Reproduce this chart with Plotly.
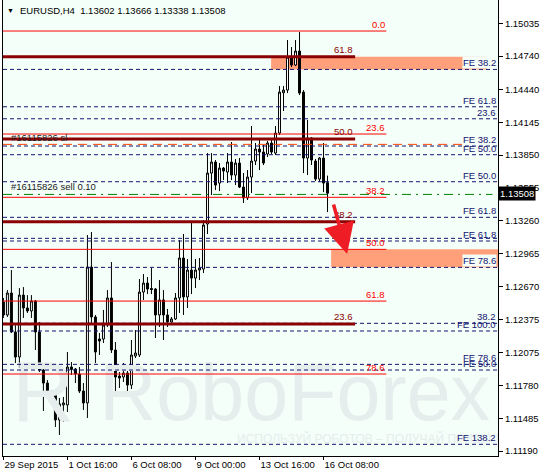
import plotly.graph_objects as go

# ---------------- data ----------------
trading_days = ["29 Sep", "30 Sep", "1 Oct", "2 Oct", "5 Oct", "6 Oct", "7 Oct", "8 Oct",
                "9 Oct", "12 Oct", "13 Oct", "14 Oct", "15 Oct", "16 Oct"]
bar_hours = ["00:00", "04:00", "08:00", "12:00", "16:00", "20:00"]
bar_times = [f"{d} {h}" for d in trading_days for h in bar_hours][:82]

open_ = [1.12530, 1.12413, 1.12610, 1.12260, 1.12035, 1.12592, 1.12476, 1.12449, 1.12539, 1.12260,
         1.11918, 1.11801, 1.11693, 1.11711, 1.11469, 1.11604, 1.11604, 1.11945, 1.11927, 1.11882,
         1.11729, 1.11622, 1.12844, 1.12395, 1.12197, 1.12197, 1.12323, 1.12566, 1.12098, 1.11864,
         1.11855, 1.11891, 1.11783, 1.12044, 1.12053, 1.12619, 1.12700, 1.12651, 1.12646, 1.12413,
         1.12548, 1.12413, 1.12350, 1.12377, 1.12566, 1.12925, 1.12575, 1.12817, 1.12745, 1.12817,
         1.12826, 1.13231, 1.13689, 1.13788, 1.13599, 1.13734, 1.13698, 1.13788, 1.13671, 1.13779,
         1.13563, 1.13465, 1.13653, 1.13797, 1.13905, 1.13878, 1.13860, 1.13959, 1.13869, 1.14049,
         1.14411, 1.14435, 1.14732, 1.14660, 1.14786, 1.14417, 1.13824, 1.14004, 1.13797, 1.13635,
         1.13824, 1.13602]
high_ = [1.12566, 1.12637, 1.12817, 1.12323, 1.12655, 1.12664, 1.12592, 1.12592, 1.12548, 1.12350,
         1.11945, 1.11828, 1.11738, 1.11720, 1.11667, 1.11676, 1.12080, 1.11990, 1.11936, 1.11945,
         1.11801, 1.13132, 1.13159, 1.12413, 1.12251, 1.12458, 1.12637, 1.12889, 1.12170, 1.11900,
         1.11981, 1.11927, 1.12188, 1.12278, 1.12736, 1.12781, 1.12754, 1.12835, 1.12655, 1.12727,
         1.12637, 1.12467, 1.12395, 1.12610, 1.13087, 1.13141, 1.12916, 1.13258, 1.12916, 1.12925,
         1.13267, 1.13869, 1.13869, 1.13806, 1.13779, 1.13743, 1.13869, 1.13968, 1.13815, 1.13824,
         1.13689, 1.13716, 1.14112, 1.13959, 1.13995, 1.13941, 1.13977, 1.13986, 1.14112, 1.14471,
         1.14471, 1.14885, 1.14822, 1.14885, 1.14957, 1.14435, 1.14166, 1.14013, 1.13815, 1.13833,
         1.13959, 1.13666]
low_ = [1.12386, 1.12395, 1.12251, 1.11981, 1.11936, 1.12386, 1.12431, 1.12386, 1.12098, 1.11900,
        1.11550, 1.11676, 1.11667, 1.11406, 1.11334, 1.11451, 1.11541, 1.11873, 1.11801, 1.11711,
        1.11559, 1.11487, 1.12341, 1.11981, 1.12053, 1.12161, 1.12305, 1.12071, 1.11711, 1.11756,
        1.11810, 1.11702, 1.11747, 1.12026, 1.12035, 1.12548, 1.12601, 1.12601, 1.12206, 1.12305,
        1.12188, 1.12305, 1.12332, 1.12368, 1.12431, 1.12413, 1.12476, 1.12601, 1.12655, 1.12727,
        1.12790, 1.13141, 1.13491, 1.13536, 1.13527, 1.13626, 1.13599, 1.13626, 1.13581, 1.13554,
        1.13420, 1.13447, 1.13509, 1.13761, 1.13716, 1.13761, 1.13833, 1.13860, 1.13851, 1.14031,
        1.14247, 1.14408, 1.14642, 1.14651, 1.14390, 1.13689, 1.13671, 1.13761, 1.13617, 1.13608,
        1.13518, 1.13338]
close_ = [1.12413, 1.12610, 1.12260, 1.12035, 1.12592, 1.12476, 1.12449, 1.12539, 1.12260, 1.11918,
          1.11801, 1.11729, 1.11711, 1.11469, 1.11613, 1.11622, 1.11945, 1.11923, 1.11882, 1.11729,
          1.11622, 1.12844, 1.12395, 1.12080, 1.12179, 1.12323, 1.12566, 1.12098, 1.11855, 1.11846,
          1.11891, 1.11783, 1.12053, 1.12071, 1.12619, 1.12700, 1.12646, 1.12642, 1.12413, 1.12548,
          1.12413, 1.12350, 1.12377, 1.12566, 1.12925, 1.12575, 1.12817, 1.12745, 1.12817, 1.12835,
          1.13222, 1.13689, 1.13788, 1.13581, 1.13734, 1.13707, 1.13788, 1.13671, 1.13779, 1.13563,
          1.13465, 1.13653, 1.13797, 1.13905, 1.13878, 1.13779, 1.13959, 1.13878, 1.14049, 1.14417,
          1.14435, 1.14732, 1.14660, 1.14786, 1.14408, 1.13824, 1.14004, 1.13806, 1.13635, 1.13824,
          1.13599, 1.13508]

x_tick_idx = [0, 16, 32, 48, 64, 80]
x_tick_text = ["29 Sep 2015", "1 Oct 16:00", "6 Oct 08:00", "9 Oct 00:00", "13 Oct 16:00", "16 Oct 08:00"]
y_tick_vals = [1.15035, 1.14740, 1.14440, 1.14145, 1.13850, 1.13555, 1.13260,
               1.12965, 1.12670, 1.12375, 1.12075, 1.11780, 1.11485, 1.11190]
y_tick_text = [f"{v:.5f}" for v in y_tick_vals]

fib_red_levels = [1.14966, 1.14040, 1.13471, 1.13003, 1.12538, 1.11882]
fib_red_labels = ["0.0", "23.6", "38.2", "50.0", "61.8", "78.6"]
fib_dark_levels = [1.14735, 1.13995, 1.13251, 1.12332]
fib_dark_labels = ["61.8", "50.0", "38.2", "23.6"]
fe_levels = [1.14621, 1.14285, 1.14177, 1.13932, 1.13854, 1.13611, 1.13291, 1.13102,
             1.13078, 1.12841, 1.12338, 1.12269, 1.11969, 1.11918, 1.11250]
fe_labels = ["FE 38.2", "FE 61.8", "23.6", "FE 38.2", "FE 50.0", "FE 50.0", "FE 61.8", "",
             "FE 61.8", "FE 78.6", "38.2", "FE 100.0", "FE 78.6", "FE 50.0", "FE 138.2"]
fe_label_bg = [True, False, False, False, False, False, False, False,
               False, True, False, False, False, False, False]

zone_upper = (1.14621, 1.14735)   # salmon zone near the top
zone_lower = (1.12841, 1.13003)   # salmon target zone
sell_price = 1.13497
sl_price = 1.13947
last_price = 1.13508
title_text = "EURUSD,H4  1.13602 1.13666 1.13338 1.13508"

# ---------------- layout constants ----------------
bar_pos = list(range(len(bar_times)))
X0, X1 = -0.1, 123.6
Y0, Y1 = 1.11145, 1.15245
RED_END, DARK_END = 95.7, 87.9
FONT = "Liberation Sans, Arial, sans-serif"
BG = "#F4FFF9"
NAVY = "#141470"
WM = "#E5EDED"

fig = go.Figure()

# watermark (behind candles)
fig.add_trace(go.Scatter(x=[72.8], y=[1.11650], mode="text", text=["RoboForex"],
                         textfont=dict(size=79, color=WM, family="Liberation Sans"),
                         hoverinfo="skip", showlegend=False))
fig.add_trace(go.Scatter(x=[10], y=[1.11650], mode="text", text=["R"],
                         textfont=dict(size=86, color=WM, family="Liberation Sans"),
                         hoverinfo="skip", showlegend=False))
fig.add_trace(go.Scatter(x=[58.4], y=[1.11289], mode="text",
                         text=["ИСПОЛЬЗУЙ РОБОТОВ – ПОЛУЧАЙ ПРИБЫЛЬ"],
                         textposition="middle right",
                         textfont=dict(size=12, color=WM, family=FONT),
                         hoverinfo="skip", showlegend=False))

fig.add_trace(go.Candlestick(
    x=bar_pos, open=open_, high=high_, low=low_, close=close_, text=bar_times,
    increasing=dict(line=dict(color="black", width=1), fillcolor="white"),
    decreasing=dict(line=dict(color="black", width=1), fillcolor="black"),
    whiskerwidth=0, showlegend=False, hoverinfo="skip"))

shapes = []
shapes.append(dict(type="rect", xref="x", yref="y", x0=66.9, x1=120.9, y0=zone_upper[0], y1=zone_upper[1],
                   fillcolor="#FFA07A", line=dict(width=0), layer="below"))
shapes.append(dict(type="rect", xref="x", yref="y", x0=81.9, x1=X1, y0=zone_lower[0], y1=zone_lower[1],
                   fillcolor="#FFA07A", line=dict(width=0), layer="below"))
for lv in fe_levels:
    shapes.append(dict(type="line", xref="x", yref="y", x0=X0, x1=X1, y0=lv, y1=lv,
                       line=dict(color=NAVY, width=1, dash="4px,3px")))
shapes.append(dict(type="line", xref="x", yref="y", x0=X0, x1=115, y0=sl_price, y1=sl_price,
                   line=dict(color="#FF4500", width=1, dash="9px,6px")))
shapes.append(dict(type="line", xref="x", yref="y", x0=X0, x1=122.2, y0=sell_price, y1=sell_price,
                   line=dict(color="#008000", width=1, dash="9px,5px,2px,5px")))
for lv in fib_red_levels:
    shapes.append(dict(type="line", xref="x", yref="y", x0=X0, x1=RED_END, y0=lv, y1=lv,
                       line=dict(color="#FF0000", width=1)))
for lv in fib_dark_levels:
    shapes.append(dict(type="line", xref="x", yref="y", x0=X0, x1=DARK_END, y0=lv, y1=lv,
                       line=dict(color="#8B0000", width=3)))

annotations = []
for lv, lab in zip(fib_red_levels, fib_red_labels):
    annotations.append(dict(x=RED_END - 0.2, y=lv, xref="x", yref="y", text=lab, showarrow=False,
                            xanchor="right", yanchor="bottom", borderpad=0,
                            font=dict(size=9.5, color="#FF0000", family=FONT)))
for lv, lab in zip(fib_dark_levels, fib_dark_labels):
    annotations.append(dict(x=DARK_END - 0.4, y=lv, xref="x", yref="y", text=lab, showarrow=False,
                            xanchor="right", yanchor="bottom", borderpad=0, yshift=1,
                            font=dict(size=9.5, color="#8B0000", family=FONT)))
for lv, lab, bg in zip(fe_levels, fe_labels, fe_label_bg):
    if not lab:
        continue
    annotations.append(dict(x=1, y=lv, xref="paper", yref="y", text=lab, showarrow=False,
                            xanchor="right", yanchor="bottom", borderpad=0, xshift=-1,
                            bgcolor=BG if bg else None,
                            font=dict(size=9.5, color=NAVY, family=FONT)))
annotations.append(dict(x=1.5, y=sl_price, xref="x", yref="y", text="#16115826 sl", showarrow=False,
                        xanchor="left", yanchor="bottom", yshift=-1,
                        font=dict(size=9.5, color="#222222", family=FONT)))
annotations.append(dict(x=1.5, y=sell_price, xref="x", yref="y", text="#16115826 sell 0.10",
                        showarrow=False, xanchor="left", yanchor="bottom",
                        font=dict(size=9.5, color="#222222", family=FONT)))
annotations.append(dict(x=1, y=last_price, xref="paper", yref="y", text=f"{last_price:.5f}",
                        showarrow=False, xanchor="left", yanchor="middle", bgcolor="black",
                        borderpad=1, font=dict(size=9.5, color="white", family=FONT)))
annotations.append(dict(x=0.004, y=0.978, xref="paper", yref="paper", text="▼", showarrow=False,
                        xanchor="left", yanchor="middle", font=dict(size=7, color="black", family=FONT)))
annotations.append(dict(x=0.031, y=0.977, xref="paper", yref="paper", text=title_text, showarrow=False,
                        xanchor="left", yanchor="middle", font=dict(size=9.5, color="black", family=FONT)))
annotations.append(dict(x=85.9, y=1.12961, xref="x", yref="y", ax=82.4, ay=1.13420, axref="x", ayref="y",
                        showarrow=True, arrowhead=2, arrowsize=1.75, arrowwidth=3.5,
                        arrowcolor="#EE1C25", text=""))

fig.update_layout(
    width=541, height=473,
    margin=dict(l=3, r=43, t=0, b=17),
    paper_bgcolor="white", plot_bgcolor=BG,
    shapes=shapes, annotations=annotations,
    showlegend=False,
    xaxis=dict(range=[X0, X1], rangeslider=dict(visible=False),
               tickvals=x_tick_idx, ticktext=x_tick_text,
               ticks="outside", ticklen=3, tickcolor="black", showgrid=False, zeroline=False,
               showline=True, linecolor="black", linewidth=1,
               ticklabelposition="outside right",
               tickfont=dict(size=9.5, color="black", family=FONT)),
    yaxis=dict(side="right", range=[Y0, Y1], tickvals=y_tick_vals, ticktext=y_tick_text,
               ticks="outside", ticklen=4, tickcolor="black", showgrid=False, zeroline=False,
               showline=True, mirror=True, linecolor="black", linewidth=1,
               tickfont=dict(size=9.5, color="black", family=FONT)),
)

fig.write_html("out.html", config={"displayModeBar": False},
               post_script="document.body.style.margin='0';document.body.style.overflow='hidden';")
